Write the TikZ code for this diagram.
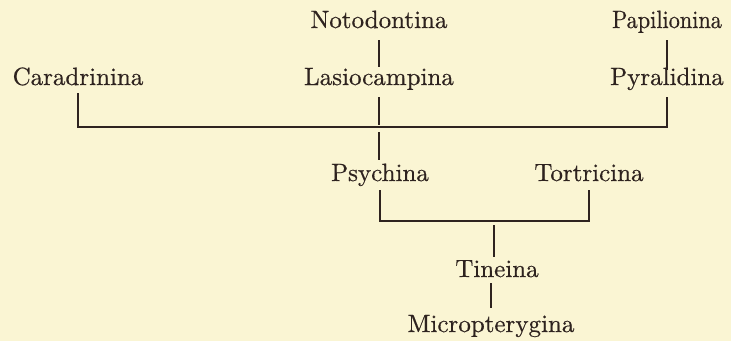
\documentclass[tikz,border=0pt]{standalone}
\usepackage{graphicx}
\usepackage{fontspec}
\newfontfamily\labfont{lmroman10-regular}[Extension=.otf, FakeBold=0.5]
\definecolor{paper}{HTML}{FAF5D3}
\definecolor{ink}{HTML}{2E231F}
\begin{document}
\begin{tikzpicture}[x=1pt,y=-1pt,
  lab/.style={inner sep=0pt, text height=17pt, text depth=5pt, anchor=base,
              font=\labfont\fontsize{25}{30}\selectfont, text=ink},
  conn/.style={draw=ink, line width=1.5pt}]
\fill[paper] (0,0) rectangle (731,341);
\useasboundingbox (0,0) rectangle (731,341);

\node[lab] (cara)  at (78,85)   {Caradrinina};
\node[lab] (noto)  at (379,28)  {Notodontina};
\node[lab] (lasio) at (379,85)  {Lasiocampina};
\node[lab] (papi)  at (667,28)  {\scalebox{0.89}[1]{Papilionina}};
\node[lab] (pyra)  at (667,85)  {Pyralidina};
\node[lab] (psych) at (380,181) {Psychina};
\node[lab] (tort)  at (589,181) {Tortricina};
\node[lab] (tine)  at (497,277) {Tineina};
\node[lab] (micro) at (491,332) {Micropterygina};

\coordinate (top) at (379,127);
\coordinate (low) at (494,221);

% upper chains
\draw[conn] ([yshift=-7pt]noto.south) -- ([yshift=1pt]lasio.north);
\draw[conn] ([yshift=-7pt]papi.south) -- ([yshift=-2pt]pyra.north);
% main bracket
\draw[conn] ([yshift=-3pt]cara.south) |- (pyra.south |- top) -- ([yshift=-7pt]pyra.south);
\draw[conn] ([yshift=-7pt]lasio.south) -- ([yshift=2pt]top);
\draw[conn] ([yshift=-5pt]top) -- ([yshift=4pt]top |- psych.north);
% lower bracket
\draw[conn] ([yshift=-4pt]psych.south) |- (low) -| ([yshift=-4pt]tort.south);
\draw[conn] ([yshift=-4pt]low) -- ([yshift=3pt]low |- tine.north);
\draw[conn] ([yshift=-1pt]micro.north |- tine.south) -- ([yshift=7pt]micro.north);
\end{tikzpicture}
\end{document}
